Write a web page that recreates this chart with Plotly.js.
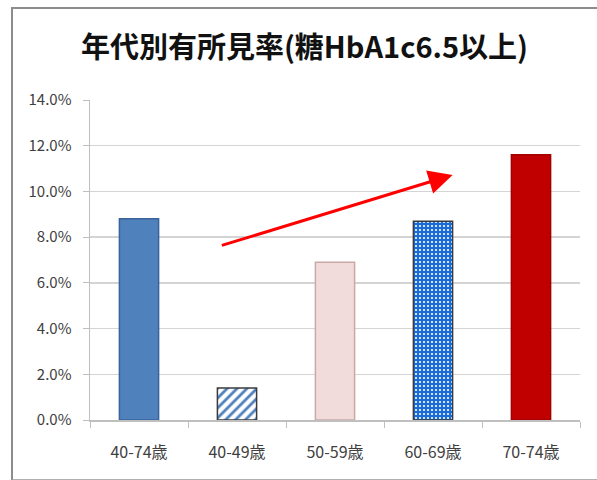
<!DOCTYPE html>
<html>
<head>
<meta charset="utf-8">
<script src="https://cdn.plot.ly/plotly-3.0.1.min.js"></script>
<style>
  html, body { margin: 0; padding: 0; background: #fff; }
  #frame { position: absolute; left: 11px; top: 7px; width: 600px; height: 470px;
           border-left: 2px solid #8c8c8c; border-top: 2px solid #8c8c8c; border-bottom: 2px solid #b0b0b0; }
  #chart { position: absolute; left: 0; top: 0; width: 597px; height: 480px; }
</style>
</head>
<body>
<div id="frame"></div>
<div id="chart"></div>
<script>
// Prevalence by age group (HbA1c >= 6.5)
const categories = ['40-74歳', '40-49歳', '50-59歳', '60-69歳', '70-74歳'];
const prevalence = [0.088, 0.014, 0.069, 0.087, 0.116];
const yTicks = [0, 0.02, 0.04, 0.06, 0.08, 0.10, 0.12, 0.14];

// Upward trend arrow, from/to in axis units
const trendFrom = { x: 0.83, y: 0.0762 };
const trendTo   = { x: 3.20, y: 0.1072 };

// Per-bar fill styles: solid, hatched, dotted
const barStyles = [
  { color: '#4f81bd', line: '#3a639a' },
  { color: '#ffffff', line: '#3b3b3b', pattern: { shape: '/', fgcolor: '#4f81bd', bgcolor: '#ffffff', size: 7, solidity: 0.4, fillmode: 'replace' } },
  { color: '#f2dcdb', line: '#c9a9a8' },
  { color: '#1f6fd6', line: '#3b3b3b', pattern: { shape: '.', fgcolor: '#ffffff', bgcolor: '#1a6cd8', size: 4, solidity: 0.22, fillmode: 'replace' } },
  { color: '#c00000', line: '#a00000' }
];

const traces = categories.map((cat, i) => {
  const s = barStyles[i];
  const marker = { color: s.color, line: { color: s.line, width: 1.5 } };
  if (s.pattern) marker.pattern = s.pattern;
  return {
    type: 'bar',
    x: [cat],
    y: [prevalence[i]],
    width: 0.4,
    marker: marker,
    hoverinfo: 'skip'
  };
});

const tickFont = { family: 'Noto Sans CJK JP, sans-serif', size: 16, color: '#404040' };

const layout = {
  width: 597,
  height: 480,
  margin: { l: 90, r: 17, t: 100, b: 60 },
  paper_bgcolor: 'rgba(0,0,0,0)',
  plot_bgcolor: '#ffffff',
  showlegend: false,
  barmode: 'overlay',
  title: {
    text: '<b>年代別有所見率(糖HbA1c6.5以上)</b>',
    font: { family: 'Noto Sans CJK JP, sans-serif', size: 29, color: '#111111' },
    x: 0.51, xanchor: 'center',
    y: 0.9, yanchor: 'middle'
  },
  xaxis: {
    type: 'category',
    categoryorder: 'array',
    categoryarray: categories,
    showgrid: false,
    showline: true,
    linecolor: '#bfbfbf',
    linewidth: 1.5,
    ticks: 'outside',
    tickson: 'boundaries',
    ticklen: 6,
    tickcolor: '#bfbfbf',
    ticklabelstandoff: 17,
    tickfont: tickFont,
    fixedrange: true
  },
  yaxis: {
    range: [0, 0.14],
    tickvals: yTicks,
    tickformat: '.1%',
    showgrid: true,
    gridcolor: '#d4d4d4',
    gridwidth: 1.5,
    showline: true,
    linecolor: '#bfbfbf',
    linewidth: 1.5,
    ticks: 'outside',
    ticklen: 6,
    tickcolor: '#bfbfbf',
    ticklabelstandoff: 8,
    zeroline: false,
    tickfont: Object.assign({}, tickFont, { size: 15 }),
    fixedrange: true
  },
  annotations: [{
    x: trendTo.x, y: trendTo.y, xref: 'x', yref: 'y',
    ax: trendFrom.x, ay: trendFrom.y, axref: 'x', ayref: 'y',
    text: '', showarrow: true,
    arrowhead: 2, arrowsize: 1.6, arrowwidth: 3, arrowcolor: '#ff0000'
  }]
};

Plotly.newPlot('chart', traces, layout, { displayModeBar: false, staticPlot: true });
</script>
</body>
</html>
